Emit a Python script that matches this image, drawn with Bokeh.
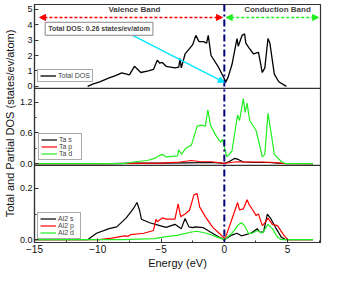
from bokeh.plotting import figure
from bokeh.models import (Range1d, LinearAxis, Span, Label, Arrow, NormalHead,
                          FixedTicker, Legend, LegendItem, CustomJSTickFormatter)
from bokeh.embed import file_html
from bokeh.resources import INLINE

# ---------------- data ----------------
tot_e = [-10.8, -10.4, -9.85, -9.1, -8.6, -8.1, -7.5, -7.1, -6.6, -6.0, -5.6, -5.3, -5.1, -4.9, -4.6,
         -3.9, -3.6, -3.5, -3.4, -3.1, -2.8, -2.5, -2.25, -2.0, -1.65, -1.4, -1.27, -1.05, -0.5,
         0.0, 0.1, 0.3, 0.6, 1.0, 1.1, 1.4, 1.6, 1.7, 1.95, 2.3, 2.7, 3.0, 3.2, 3.45, 3.6, 3.95,
         4.3, 4.9]
tot_v = [0.0, 0.15, 0.3, 0.55, 0.7, 0.88, 0.75, 1.3, 0.9, 1.0, 1.1, 1.7, 1.5, 1.55, 1.3,
         1.2, 1.25, 1.8, 1.2, 2.1, 2.4, 2.7, 3.3, 2.9, 2.9, 2.8, 3.3, 2.0, 1.3,
         0.5, 0.26, 0.6, 1.4, 3.1, 2.6, 3.3, 3.4, 2.8, 2.5, 2.1, 2.2, 0.9, 1.2, 3.1, 2.8, 0.8,
         0.3, 0.0]

tas_e = [-15, -9, -7, -5, -3, -1, 0, 0.4, 0.8, 1.1, 1.5, 2.5, 3.5, 4.5, 7]
tas_v = [0, 0, 0.01, 0.01, 0.015, 0.02, 0.005, 0.04, 0.1, 0.08, 0.03, 0.02, 0.02, 0.005, 0]
tap_e = [-15, -10, -7, -5, -3.5, -2.6, -2, -1, 0, 0.5, 1, 2, 3, 4, 4.8, 7]
tap_v = [0, 0, 0.005, 0.01, 0.03, 0.06, 0.04, 0.035, 0.005, 0.02, 0.035, 0.03, 0.03, 0.02, 0, 0]
tad_e = [-15, -8, -7.4, -6.9, -6.1, -5.5, -5.1, -4.9, -4.6, -3.7, -3.6, -3.4, -3.0, -2.6, -2.15,
         -1.8, -1.5, -1.3, -1.1, -0.65, -0.3, -0.15, 0.05, 0.2, 0.6, 1.05, 1.2, 1.5, 1.65, 1.8,
         2.0, 2.5, 2.7, 3.0, 3.2, 3.45, 3.7, 3.95, 4.5, 4.8, 7.0]
tad_v = [0, 0, 0.02, 0.04, 0.06, 0.1, 0.16, 0.18, 0.13, 0.15, 0.27, 0.18, 0.31, 0.36, 0.73,
         0.75, 0.73, 1.05, 0.75, 0.54, 0.42, 0.47, 0.27, 0.13, 0.24, 0.95, 0.84, 1.27, 1.0, 1.18,
         0.84, 0.65, 0.45, 0.13, 0.18, 0.98, 0.6, 0.18, 0.04, 0.0, 0.0]

als_e = [-15, -10.8, -10.1, -9.1, -8.5, -7.75, -7.2, -6.9, -6.7, -6.55, -5.9, -5.1, -4.6, -3.9,
         -3.4, -3.1, -2.8, -2.5, -2.3, -1.65, -1.1, -0.5, 0, 0.6, 1.0, 1.35, 2.1, 2.6, 2.8, 3.1,
         3.4, 3.7, 4.1, 4.5, 4.85, 7]
als_v = [0, 0, 0.025, 0.043, 0.05, 0.085, 0.12, 0.145, 0.115, 0.08, 0.066, 0.055, 0.048, 0.06,
         0.043, 0.083, 0.05, 0.047, 0.05, 0.047, 0.03, 0.012, 0, 0.018, 0.025, 0.015, 0.025,
         0.043, 0.03, 0.03, 0.1, 0.08, 0.043, 0.01, 0, 0]
alp_e = [-15, -9.85, -8.9, -7.85, -7.6, -7.4, -6.35, -5.6, -5.4, -5.3, -4.9, -4.6, -3.9, -3.65,
         -3.45, -3.1, -2.75, -2.4, -2.15, -1.95, -1.5, -0.9, -0.4, 0.05, 0.6, 1.05, 1.2, 1.5, 1.8,
         1.95, 2.25, 2.5, 2.7, 3.0, 3.2, 3.45, 3.8, 4.2, 4.7, 5.0, 7]
alp_v = [0, 0, 0.006, 0.015, 0.013, 0.02, 0.025, 0.036, 0.08, 0.07, 0.085, 0.08, 0.08, 0.14,
         0.09, 0.1, 0.115, 0.175, 0.18, 0.128, 0.09, 0.047, 0.025, 0.003, 0.08, 0.145, 0.116,
         0.12, 0.156, 0.138, 0.116, 0.095, 0.1, 0.055, 0.065, 0.084, 0.06, 0.055, 0.018, 0, 0]
ald_e = [-15, -8, -5.5, -4.6, -3.65, -2.6, -2.15, -1.4, -0.65, 0, 0.6, 1.1, 1.35, 1.6, 1.9,
         2.2, 2.6, 3.0, 3.45, 3.8, 4.2, 4.5, 7]
ald_v = [0, 0, 0.004, 0.012, 0.018, 0.03, 0.033, 0.025, 0.012, 0, 0.025, 0.058, 0.066, 0.055,
         0.025, 0.025, 0.036, 0.025, 0.06, 0.043, 0.01, 0, 0]

x_ticks = [-15, -10, -5, 0, 5]
x_minor = [-12.5, -7.5, -2.5, 2.5, 7.5]
top_ticks = [0, 1, 2, 3, 4, 5]
top_labels = ["0", "1", "2", "3", "4", "5"]
mid_ticks = [0.0, 0.6, 1.2]
mid_labels = ["0.0", "0.6", "1.2"]
mid_minor = [0.3, 0.9]
bot_ticks = [0.0, 0.2]
bot_labels = ["0.0", "0.2"]
bot_minor = [0.1]

fermi = 0.0
total_dos_at_ef = 0.26

# ---------------- layout / style ----------------
FONT = "Liberation Sans"
BLACK = "#000000"
RED = "#ff0000"
GREEN = "#22ee22"
CYAN = "#00e8ff"
NAVY = "#00007a"
AX = "#333333"

W, H = 322, 268
FH = 238
# panel placement as fraction of frame height (bottom, top) and data range
panels = {
    "top": ((0.648, 1.0), (-0.12, 5.3)),
    "mid": ((0.324, 0.648), (-0.036, 1.47)),
    "bot": ((0.0, 0.324), (-0.011, 0.29)),
}


def full_range(frac, lims):
    a, b = frac
    lo, hi = lims
    span = (hi - lo) / (b - a)
    start = lo - a * span
    return Range1d(start, start + span)


def to_main(name, v):
    (a, b), (lo, hi) = panels[name]
    return round(a + (v - lo) / (hi - lo) * (b - a), 6)


p = figure(width=W, frame_height=FH, x_range=Range1d(-15, 7.6), y_range=Range1d(0, 1),
           toolbar_location=None, output_backend="svg",
           min_border=0, min_border_top=4, min_border_right=2,
           x_axis_location=None, y_axis_location=None)
p.grid.visible = False
p.outline_line_color = AX
p.outline_line_width = 1.2
p.extra_y_ranges = {k: full_range(*panels[k]) for k in panels}

# left axis: ticks of the three panels
tick_pos, tick_lab, minor_pos = [], [], []
for name, ticks, labs, minors in (("top", top_ticks, top_labels, []),
                                  ("mid", mid_ticks, mid_labels, mid_minor),
                                  ("bot", bot_ticks, bot_labels, bot_minor)):
    for t, l in zip(ticks, labs):
        tick_pos.append(to_main(name, t))
        tick_lab.append(l)
    for m in minors:
        minor_pos.append(to_main(name, m))

la = LinearAxis(ticker=FixedTicker(ticks=tick_pos, minor_ticks=minor_pos),
                formatter=CustomJSTickFormatter(
                    args=dict(pos=tick_pos, lab=tick_lab),
                    code="for (let i = 0; i < pos.length; i++) {"
                         " if (Math.abs(tick - pos[i]) < 1e-4) return lab[i]; }"
                         " return '';"))
la.axis_label = "Total and Partial DOS (states/ev/atom)"
ba = LinearAxis(ticker=FixedTicker(ticks=x_ticks, minor_ticks=x_minor))
ba.axis_label = "Energy (eV)"
for ax in (la, ba):
    ax.major_tick_in = 4
    ax.major_tick_out = 0
    ax.minor_tick_in = 2
    ax.minor_tick_out = 0
    ax.axis_line_color = AX
    ax.axis_line_width = 1.2
    ax.major_tick_line_color = AX
    ax.minor_tick_line_color = AX
    ax.major_label_text_font = FONT
    ax.major_label_text_color = "#111111"
    ax.major_label_standoff = 2
    ax.axis_label_text_font = FONT
    ax.axis_label_text_font_size = "11px"
    ax.axis_label_text_font_style = "normal"
    ax.axis_label_text_color = "#111111"
    ax.axis_label_standoff = 1
la.major_label_text_font_size = "9px"
ba.major_label_text_font_size = "10px"
p.add_layout(la, "left")
p.add_layout(ba, "below")

# panel separators
for name in ("mid", "bot"):
    p.add_layout(Span(location=panels[name][0][1], dimension="width",
                      line_color=AX, line_width=1.2))

# Fermi level
p.add_layout(Span(location=fermi, dimension="height", line_color=NAVY,
                  line_width=2, line_dash="7 3 2 3"))


def add_legend(items, loc):
    lg = Legend(items=items, location=loc, label_text_font=FONT,
                label_text_font_size="7px", label_height=7, glyph_height=7,
                glyph_width=16, label_standoff=2, spacing=0, padding=2, margin=0,
                border_line_color="#555555", border_line_width=1,
                background_fill_alpha=1.0)
    p.add_layout(lg)


# ---------------- top panel: total DOS ----------------
r_tot = p.line(tot_e, tot_v, line_color=BLACK, line_width=1.3, y_range_name="top")
add_legend([LegendItem(label="Total DOS", renderers=[r_tot])],
           (3, int(panels["top"][0][0] * FH) + 6))

p.add_layout(Arrow(x_start=-0.15, y_start=4.46, x_end=-14.6, y_end=4.46, y_range_name="top",
                   line_color=RED, line_width=1.5, line_dash="3 2",
                   start=NormalHead(size=6, fill_color=RED, line_color=RED),
                   end=NormalHead(size=6, fill_color=RED, line_color=RED)))
p.add_layout(Arrow(x_start=0.15, y_start=4.46, x_end=7.45, y_end=4.46, y_range_name="top",
                   line_color=GREEN, line_width=1.5, line_dash="3 2",
                   start=NormalHead(size=6, fill_color=GREEN, line_color=GREEN),
                   end=NormalHead(size=6, fill_color=GREEN, line_color=GREEN)))
p.add_layout(Label(x=-7.1, y=4.68, y_range_name="top", text="Valence Band", text_font=FONT,
                   text_font_size="8px", text_font_style="bold", text_align="center",
                   text_baseline="bottom"))
p.add_layout(Label(x=4.2, y=4.68, y_range_name="top", text="Conduction Band", text_font=FONT,
                   text_font_size="8px", text_font_style="bold", text_align="center",
                   text_baseline="bottom"))
p.add_layout(Arrow(x_start=-7.24, y_start=3.3, x_end=fermi, y_end=total_dos_at_ef,
                   y_range_name="top", line_color=CYAN, line_width=1.3,
                   end=NormalHead(size=6, fill_color=CYAN, line_color=CYAN), start=None))
p.add_layout(Label(x=-9.9, y=3.73, y_range_name="top",
                   text="Total DOS: %.2f states/ev/atom" % total_dos_at_ef,
                   text_font=FONT, text_font_size="7px", text_font_style="bold",
                   text_align="center", text_baseline="middle",
                   border_line_color="#888888", border_line_width=1,
                   background_fill_color="white", padding=3))

# ---------------- middle panel: Ta ----------------
r1 = p.line(tas_e, tas_v, line_color=BLACK, line_width=1.2, y_range_name="mid")
r2 = p.line(tap_e, tap_v, line_color=RED, line_width=1.2, y_range_name="mid")
r3 = p.line(tad_e, tad_v, line_color=GREEN, line_width=1.2, y_range_name="mid")
add_legend([LegendItem(label="Ta s", renderers=[r1]),
            LegendItem(label="Ta p", renderers=[r2]),
            LegendItem(label="Ta d", renderers=[r3])],
           (4, int(panels["mid"][0][0] * FH) + 5))

# ---------------- bottom panel: Al2 ----------------
q1 = p.line(als_e, als_v, line_color=BLACK, line_width=1.2, y_range_name="bot")
q2 = p.line(alp_e, alp_v, line_color=RED, line_width=1.2, y_range_name="bot")
q3 = p.line(ald_e, ald_v, line_color=GREEN, line_width=1.2, y_range_name="bot")
add_legend([LegendItem(label="Al2 s", renderers=[q1]),
            LegendItem(label="Al2 p", renderers=[q2]),
            LegendItem(label="Al2 d", renderers=[q3])], (3, 3))

open("out.html", "w").write(file_html(p, INLINE))
